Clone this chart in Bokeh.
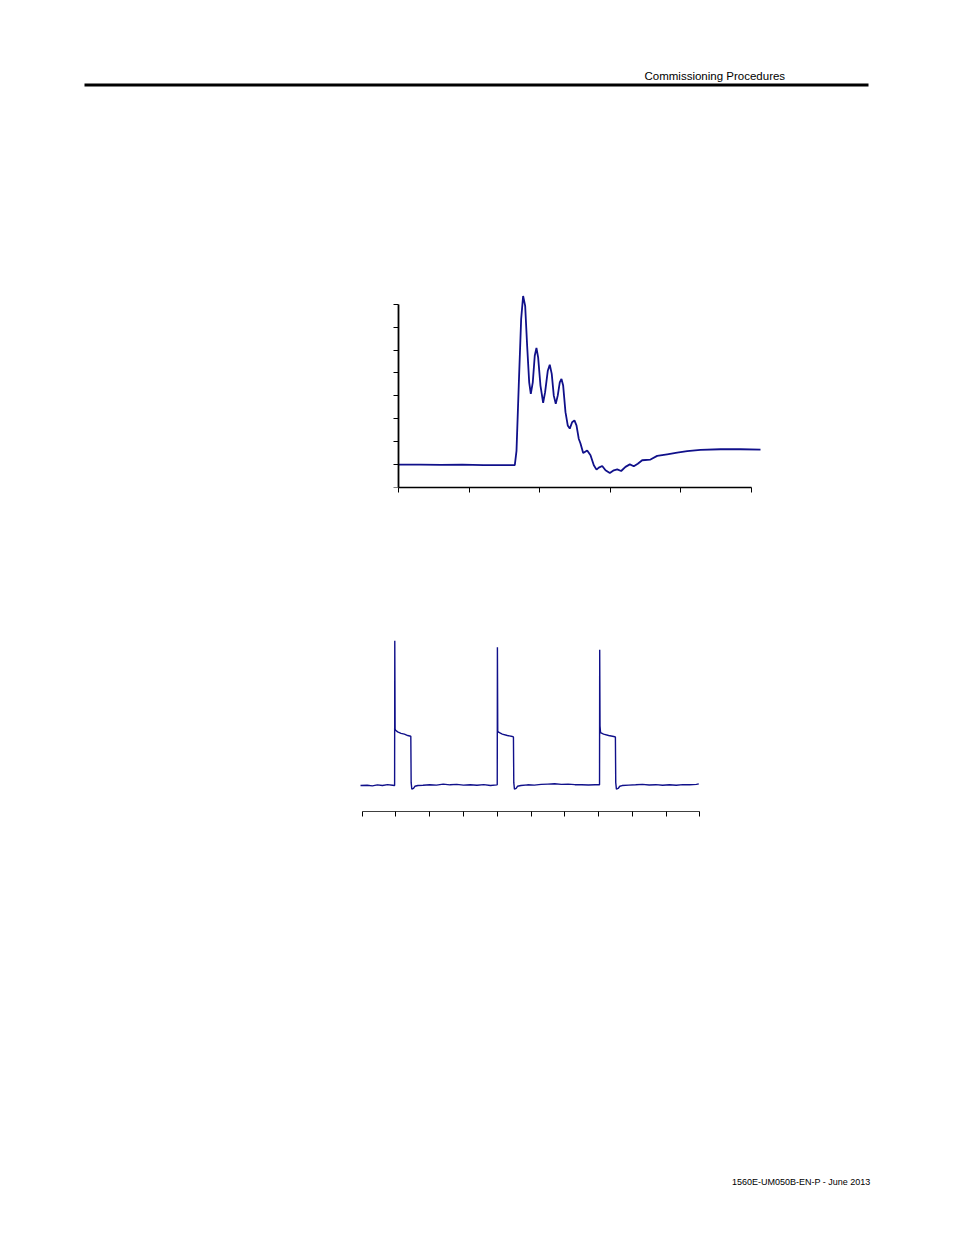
from bokeh.plotting import figure
from bokeh.layouts import column
from bokeh.models import Range1d
from bokeh.core.properties import value
from bokeh.embed import file_html
from bokeh.resources import INLINE

# page texts
header_text = "Commissioning Procedures"
footer_text = "1560E-UM050B-EN-P - June 2013"

# chart 1 : step response (x in tick units, y in tick units)
resp_x = [0.0, 0.3, 0.6, 0.9, 1.2, 1.45, 1.646, 1.67, 1.702, 1.736, 1.764, 1.793,
          1.821, 1.850, 1.873, 1.901, 1.929, 1.953, 1.977, 2.010, 2.048, 2.076,
          2.114, 2.142, 2.170, 2.199, 2.227, 2.255, 2.284, 2.308, 2.332, 2.365,
          2.397, 2.426, 2.459, 2.492, 2.521, 2.553, 2.578, 2.616, 2.673, 2.720,
          2.767, 2.805, 2.838, 2.886, 2.933, 2.994, 3.051, 3.099, 3.155, 3.216,
          3.278, 3.334, 3.391, 3.453, 3.571, 3.666, 3.808, 3.950, 4.092, 4.281,
          4.564, 4.848, 5.132]
resp_y = [1.0, 1.0, 0.99, 1.0, 0.98, 0.98, 0.98, 1.6, 4.45, 7.35, 8.36, 7.93,
          6.19, 4.59, 4.09, 4.59, 5.75, 6.09, 5.68, 4.45, 3.70, 4.16,
          5.10, 5.36, 4.96, 4.01, 3.65, 4.01, 4.59, 4.74, 4.45, 3.29,
          2.71, 2.57, 2.85, 2.93, 2.71, 2.13, 1.92, 1.51, 1.62, 1.41,
          0.97, 0.78, 0.87, 0.94, 0.75, 0.63, 0.75, 0.79, 0.72, 0.90,
          1.01, 0.93, 1.04, 1.19, 1.22, 1.38, 1.45, 1.52, 1.59, 1.64,
          1.67, 1.67, 1.65]
resp_xticks = [0, 1, 2, 3, 4, 5]
resp_yticks = [0, 1, 2, 3, 4, 5, 6, 7, 8]

# chart 2 : pulse train
pulse_x = [-0.05, 0.15, 0.3, 0.45, 0.6, 0.75, 0.9, 0.955,
           0.96, 0.965, 0.975, 0.99, 1.05, 1.15, 1.25, 1.35, 1.44, 1.45, 1.47, 1.52, 1.56, 1.65,
           1.8, 2.0, 2.2, 2.4, 2.6, 2.8, 3.0, 3.2, 3.4, 3.6, 3.8, 3.995,
           4.0, 4.005, 4.015, 4.05, 4.15, 4.3, 4.45, 4.48, 4.49, 4.51, 4.56, 4.6, 4.7,
           4.9, 5.1, 5.3, 5.5, 5.7, 5.9, 6.1, 6.3, 6.5, 6.7, 6.9, 7.025,
           7.03, 7.035, 7.045, 7.06, 7.15, 7.3, 7.45, 7.5, 7.51, 7.53, 7.58, 7.63, 7.7,
           7.9, 8.1, 8.3, 8.5, 8.7, 8.9, 9.1, 9.3, 9.5, 9.7, 9.9, 9.97]
pulse_y = [0.0, 0.02, -0.02, 0.05, 0.0, 0.06, 0.02, 0.0,
           0.0, 9.98, 3.9, 3.82, 3.7, 3.6, 3.55, 3.45, 3.4, 0.2, -0.25, -0.2, -0.05, 0.0,
           0.02, 0.05, 0.03, 0.1, 0.05, 0.08, 0.03, 0.05, 0.02, 0.06, 0.0, 0.05,
           0.05, 9.54, 3.75, 3.66, 3.55, 3.45, 3.38, 3.35, 0.2, -0.25, -0.2, -0.05, 0.0,
           0.05, 0.03, 0.08, 0.1, 0.12, 0.08, 0.1, 0.06, 0.05, 0.04, 0.05, 0.05,
           0.05, 9.36, 4.1, 3.65, 3.55, 3.45, 3.38, 3.35, 0.2, -0.25, -0.2, -0.05, 0.0,
           0.03, 0.05, 0.08, 0.04, 0.06, 0.02, 0.05, 0.02, 0.06, 0.05, 0.08, 0.12]
pulse_xticks = [0, 1, 2, 3, 4, 5, 6, 7, 8, 9, 10]

LINE_COLOR = "#10108a"
FONT = value("Liberation Sans")
PAGE_W = 946

# every strip uses the full page width as its frame, so the column
# has nothing to re-align; the charts are placed through their ranges
def strip(height, x_range, y_range, top=0, bottom=0):
    p = figure(frame_width=PAGE_W, frame_height=height - top - bottom,
               x_range=x_range, y_range=y_range,
               min_border_left=0, min_border_right=0,
               min_border_top=top, min_border_bottom=bottom,
               output_backend="svg", toolbar_location=None)
    p.grid.visible = False
    p.outline_line_color = None
    return p


def style_axis(ax, ticks, color):
    ax.ticker = ticks
    ax.major_label_overrides = {t: "" for t in ticks}
    ax.major_label_standoff = 0
    ax.minor_tick_line_color = None
    ax.major_tick_in = 0
    ax.major_tick_out = 5
    ax.axis_line_color = color
    ax.major_tick_line_color = "black"


# header strip, page coordinates
hdr = strip(200, Range1d(0, PAGE_W), Range1d(200, 0))
hdr.axis.visible = False
hdr.text(x=[644], y=[75], text=[header_text], text_font=FONT, text_font_size="11.5px",
         text_baseline="alphabetic", text_align="left", text_color="black")
hdr.segment(x0=84, y0=84.5, x1=868, y1=84.5, line_width=3, line_color="black")

# chart 1 : x=0 at page 398.3, 70.48 px per tick ; y=0 at page 487.3, 22.91 px per tick
x0_1, sx_1 = 398.3, 70.48
p1 = strip(360, Range1d(-x0_1 / sx_1, (PAGE_W - x0_1) / sx_1), Range1d(0, 8.6),
           top=90, bottom=73)
p1.line(resp_x, resp_y, line_color=LINE_COLOR, line_width=1.8)
p1.xaxis.bounds = (0, 5)
p1.yaxis.bounds = (0, 8)
p1.yaxis.fixed_location = 0
style_axis(p1.xaxis[0], resp_xticks, "black")
style_axis(p1.yaxis[0], resp_yticks, "black")
p1.xaxis.axis_line_width = 1.5
p1.yaxis.axis_line_width = 1.8

# chart 2 : x=0 at page 361.7, 33.76 px per tick
x0_2, sx_2 = 361.7, 33.76
p2 = strip(340, Range1d(-x0_2 / sx_2, (PAGE_W - x0_2) / sx_2), Range1d(-1.79, 10.28),
           top=76, bottom=89)
p2.line(pulse_x, pulse_y, line_color=LINE_COLOR, line_width=1.4)
p2.yaxis.visible = False
p2.xaxis.bounds = (0, 10)
style_axis(p2.xaxis[0], pulse_xticks, "#404040")

# footer strip, page coordinates
ftr = strip(300, Range1d(0, PAGE_W), Range1d(1200, 900))
ftr.axis.visible = False
ftr.text(x=[870], y=[1181.5], text=[footer_text], text_font=FONT, text_font_size="9px",
         text_baseline="alphabetic", text_align="right", text_color="black")

page = column(hdr, p1, p2, ftr)
open("out.html", "w").write(file_html(page, INLINE))
